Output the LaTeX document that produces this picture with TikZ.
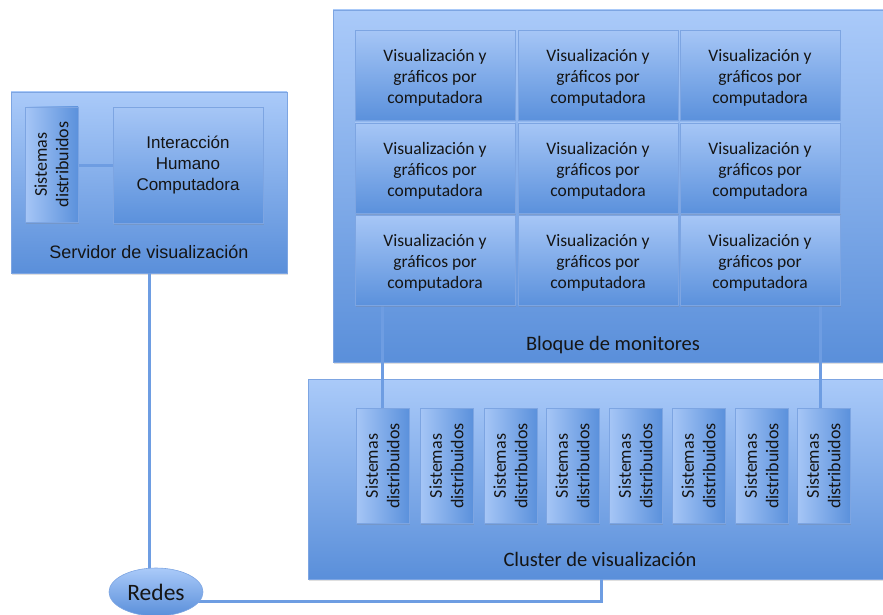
\documentclass[tikz,border=0pt]{standalone}
\usepackage{fontspec}
\setmainfont{Carlito}
\newfontfamily\arialf{Liberation Sans}
\usetikzlibrary{shapes.geometric,shadows}
\pgfdeclarelayer{back}
\pgfdeclarelayer{mid}
\pgfsetlayers{back,mid,main}
\definecolor{boxtop}{HTML}{AACAF9}
\definecolor{boxbot}{HTML}{5A8FDA}
\definecolor{cellltop}{HTML}{A6C6F6}
\definecolor{cellbot}{HTML}{5B91DC}
\definecolor{edgeblue}{HTML}{7DA5E2}
\definecolor{wire}{HTML}{6E9DE2}
\definecolor{ink}{HTML}{151515}
\tikzset{
  softshadow/.style={drop shadow={opacity=0.25,shadow xshift=1pt,shadow yshift=-1.5pt}},
  container/.style={rectangle,draw=edgeblue,line width=0.6pt,top color=boxtop,bottom color=boxbot,softshadow},
  cell/.style={rectangle,draw=edgeblue,line width=0.6pt,top color=cellltop,bottom color=cellbot,softshadow,
    minimum width=160pt,minimum height=90pt,inner sep=0pt},
  celltext/.style={text=ink,align=center,font=\fontsize{17.5}{21}\selectfont},
  sdbox/.style={rectangle,draw=edgeblue,line width=0.6pt,left color=cellltop,right color=cellbot,softshadow,
    minimum width=53pt,minimum height=115pt,inner sep=0pt},
  sdtext/.style={rotate=90,text=ink,align=center,font=\fontsize{18}{21.5}\selectfont},
  biglabel/.style={text=ink,font=\fontsize{20.5}{24}\selectfont},
  wireline/.style={draw=wire,line width=3pt},
}
\newcommand{\vgcText}{Visualización y\\gráficos por\\computadora}
\newcommand{\sdText}{Sistemas\\distribuidos}
\begin{document}
\begin{tikzpicture}[x=1pt,y=-1pt]
\useasboundingbox (0,0) rectangle (883,615);

% page background and outer containers
\begin{pgfonlayer}{back}
  \fill[white] (0,0) rectangle (883,615);
  \node[container,minimum width=276pt,minimum height=181pt] (srv) at (149,182.5) {};
  \node[container,minimum width=552pt,minimum height=352pt] (bloque) at (609,186) {};
  \node[container,minimum width=577pt,minimum height=200pt] (cluster) at (596.5,479) {};
\end{pgfonlayer}

% visualization server
\node[sdbox,minimum height=115pt] (sdL) at (51.5,164.5) {};
\node[sdtext] at (sdL) {\sdText};
\node[rectangle,draw=edgeblue,line width=0.6pt,top color=cellltop,bottom color=cellbot,softshadow,
  minimum width=150pt,minimum height=116pt,inner sep=0pt,align=center,text=ink,
  font=\arialf\fontsize{17}{21}\selectfont] (ihc) at (188,165) {Interacción\\Humano\\Computadora};
\node[text=ink,font=\arialf\fontsize{18}{22}\selectfont] (srvlabel) at (149,252) {Servidor de visualización};

% monitor wall
\foreach \r/\y in {1/75,2/168,3/260.5}{
  \foreach \c/\x in {1/435,2/598,3/760}{
    \node[cell] (g\r\c) at (\x,\y) {};
    \node[celltext] at ([yshift=-2.5pt]g\r\c.center) {\vgcText};
  }
}
\node[biglabel] (bloquelabel) at (613,345) {Bloque de monitores};

% visualization cluster
\foreach \i/\x in {1/382.5,2/446.5,3/510.5,4/572.5,5/635.5,6/698.5,7/761.5,8/823.5}{
  \node[sdbox] (sd\i) at (\x,466) {};
  \node[sdtext] at (sd\i) {\sdText};
}
\node[biglabel] (clusterlabel) at (600,559) {Cluster de visualización};

% network
\node[ellipse,draw=edgeblue,line width=0.6pt,top color=boxtop,bottom color=boxbot,
  minimum width=94pt,minimum height=48pt,inner sep=0pt,text=ink,
  font=\fontsize{23.5}{26}\selectfont] (redes) at (156,592) {Redes};

% connectors
\begin{pgfonlayer}{mid}
  \draw[wireline] (sdL.east |- ihc.west) -- (ihc.west);
  \draw[wireline] (srv.south) -- (srv.south |- redes.center);
  \draw[wireline] ([yshift=-9pt]redes.center) -| ([xshift=4.5pt]cluster.south);
  \draw[wireline] (g31.south -| sd1.north) -- (sd1.north);
  \draw[wireline] ([xshift=-3pt]g33.south -| sd8.north) -- ([xshift=-3pt]sd8.north);
\end{pgfonlayer}
\end{tikzpicture}
\end{document}
